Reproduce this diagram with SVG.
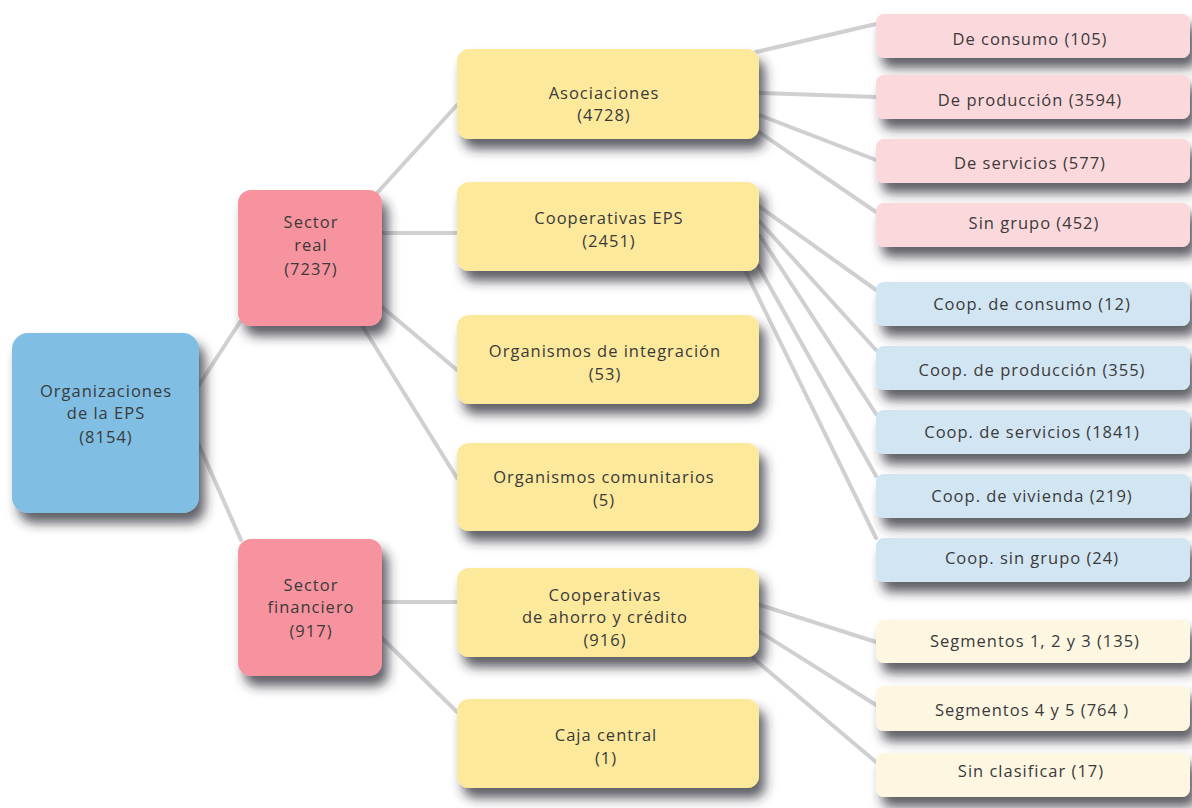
<svg xmlns="http://www.w3.org/2000/svg" width="1192" height="808" viewBox="0 0 1192 808">
<style>
.bg{fill:#ffffff}
.conn line{stroke:#d0d0d2;stroke-width:4;stroke-linecap:round}
.node rect{filter:url(#sh)}
.root{fill:#80bee4}
.sec{fill:#f7939f}
.yel{fill:#fde99c}
.pink{fill:#fbd8db}
.blue{fill:#d2e5f3}
.cream{fill:#fdf7e2}
text{font-family:"Open Sans","Noto Sans","DejaVu Sans",sans-serif;font-size:16.5px;letter-spacing:1px;fill:#3a3a3a;text-anchor:middle}
</style>
<defs>
<filter id="sh" x="-20%" y="-30%" width="150%" height="190%">
<feDropShadow dx="6" dy="10" stdDeviation="6" flood-color="#2a2a30" flood-opacity="0.75"/>
</filter>
</defs>
<rect class="bg" x="0" y="0" width="1192" height="808"/>
<g id="connectors" class="conn">
<line x1="199" y1="385" x2="240" y2="322"/>
<line x1="199" y1="445" x2="241" y2="540"/>
<line x1="377" y1="193" x2="457" y2="105"/>
<line x1="382" y1="233" x2="457" y2="233"/>
<line x1="382" y1="307" x2="457" y2="370"/>
<line x1="363" y1="327" x2="457" y2="478"/>
<line x1="382" y1="602" x2="457" y2="602"/>
<line x1="382" y1="638" x2="457" y2="712"/>
<line x1="756" y1="52" x2="876" y2="24"/>
<line x1="759" y1="93" x2="876" y2="97"/>
<line x1="759" y1="115" x2="876" y2="160"/>
<line x1="759" y1="132" x2="876" y2="212"/>
<line x1="760" y1="207" x2="876" y2="290"/>
<line x1="760" y1="222" x2="876" y2="350"/>
<line x1="760" y1="236" x2="876" y2="414"/>
<line x1="756" y1="262" x2="876" y2="476"/>
<line x1="746" y1="272" x2="876" y2="538"/>
<line x1="760" y1="605" x2="876" y2="642"/>
<line x1="760" y1="632" x2="876" y2="705"/>
<line x1="753" y1="658" x2="876" y2="762"/>
</g>
<g id="n-root" class="node"><rect class="root" x="12" y="333" width="187" height="180" rx="16"/><text x="106" y="397">Organizaciones</text><text x="106" y="419">de la EPS</text><text x="106" y="443">(8154)</text></g>
<g id="n-real" class="node"><rect class="sec" x="238" y="190" width="144" height="136" rx="13"/><text x="311" y="228">Sector</text><text x="311" y="251">real</text><text x="311" y="275">(7237)</text></g>
<g id="n-fin" class="node"><rect class="sec" x="238" y="539" width="144" height="137" rx="13"/><text x="311" y="591">Sector</text><text x="311" y="613">financiero</text><text x="311" y="637">(917)</text></g>
<g id="n-asoc" class="node"><rect class="yel" x="457" y="49" width="302" height="90" rx="12"/><text x="604" y="99">Asociaciones</text><text x="604" y="121">(4728)</text></g>
<g id="n-coop" class="node"><rect class="yel" x="457" y="182" width="302" height="89" rx="12"/><text x="609" y="224">Cooperativas EPS</text><text x="609" y="247">(2451)</text></g>
<g id="n-integ" class="node"><rect class="yel" x="457" y="315" width="302" height="89" rx="12"/><text x="605" y="357">Organismos de integración</text><text x="605" y="380">(53)</text></g>
<g id="n-comun" class="node"><rect class="yel" x="457" y="443" width="302" height="88" rx="12"/><text x="604" y="483">Organismos comunitarios</text><text x="604" y="506">(5)</text></g>
<g id="n-ahorro" class="node"><rect class="yel" x="457" y="568" width="302" height="89" rx="12"/><text x="605" y="601">Cooperativas</text><text x="605" y="623">de ahorro y crédito</text><text x="605" y="646">(916)</text></g>
<g id="n-caja" class="node"><rect class="yel" x="457" y="699" width="302" height="89" rx="12"/><text x="606" y="741">Caja central</text><text x="606" y="764">(1)</text></g>
<g id="n-consumo" class="node"><rect class="pink" x="876" y="14" width="314" height="44" rx="8"/><text x="1030" y="45">De consumo (105)</text></g>
<g id="n-produccion" class="node"><rect class="pink" x="876" y="75" width="314" height="44" rx="8"/><text x="1030" y="106">De producción (3594)</text></g>
<g id="n-servicios" class="node"><rect class="pink" x="876" y="139" width="314" height="44" rx="8"/><text x="1030" y="169">De servicios (577)</text></g>
<g id="n-singrupo" class="node"><rect class="pink" x="876" y="203" width="314" height="44" rx="8"/><text x="1034" y="229">Sin grupo (452)</text></g>
<g id="n-cconsumo" class="node"><rect class="blue" x="876" y="282" width="314" height="44" rx="8"/><text x="1032" y="310">Coop. de consumo (12)</text></g>
<g id="n-cproduccion" class="node"><rect class="blue" x="876" y="346" width="314" height="44" rx="8"/><text x="1032" y="376">Coop. de producción (355)</text></g>
<g id="n-cservicios" class="node"><rect class="blue" x="876" y="410" width="314" height="44" rx="8"/><text x="1032" y="438">Coop. de servicios (1841)</text></g>
<g id="n-cvivienda" class="node"><rect class="blue" x="876" y="474" width="314" height="44" rx="8"/><text x="1032" y="502">Coop. de vivienda (219)</text></g>
<g id="n-csingrupo" class="node"><rect class="blue" x="876" y="538" width="314" height="44" rx="8"/><text x="1032" y="564">Coop. sin grupo (24)</text></g>
<g id="n-seg123" class="node"><rect class="cream" x="876" y="620" width="314" height="43" rx="8"/><text x="1035" y="647">Segmentos 1, 2 y 3 (135)</text></g>
<g id="n-seg45" class="node"><rect class="cream" x="876" y="686" width="314" height="45" rx="8"/><text x="1032" y="716">Segmentos 4 y 5 (764 )</text></g>
<g id="n-sinclas" class="node"><rect class="cream" x="876" y="753" width="314" height="44" rx="8"/><text x="1031" y="777">Sin clasificar (17)</text></g>
</svg>
